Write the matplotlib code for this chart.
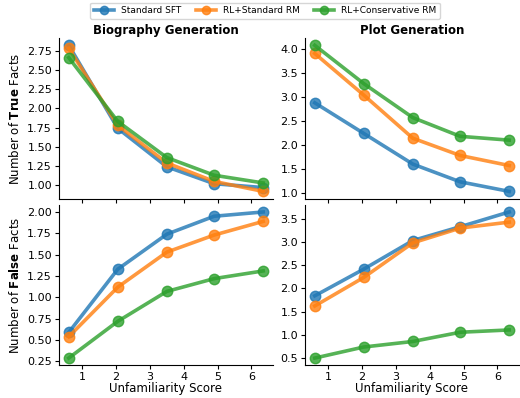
import matplotlib
matplotlib.use("Agg")
import matplotlib.pyplot as plt
import numpy as np

# unfamiliarity score bins (x positions)
scores = [0.6, 2.05, 3.5, 4.9, 6.35]
methods = ['Standard SFT', 'RL+Standard RM', 'RL+Conservative RM']
colors = ['#1f77b4', '#ff7f0e', '#2ca02c']

# Biography generation
bio_true_sft = [2.82, 1.74, 1.24, 1.02, 0.97]
bio_true_std = [2.78, 1.78, 1.29, 1.05, 0.92]
bio_true_cons = [2.66, 1.83, 1.36, 1.13, 1.03]
bio_false_sft = [0.59, 1.33, 1.74, 1.95, 2.00]
bio_false_std = [0.54, 1.12, 1.53, 1.73, 1.89]
bio_false_cons = [0.29, 0.72, 1.07, 1.22, 1.31]

# Plot generation
plot_true_sft = [2.88, 2.24, 1.60, 1.23, 1.03]
plot_true_std = [3.91, 3.04, 2.14, 1.78, 1.57]
plot_true_cons = [4.08, 3.28, 2.57, 2.18, 2.10]
plot_false_sft = [1.84, 2.42, 3.04, 3.34, 3.66]
plot_false_std = [1.62, 2.24, 2.99, 3.31, 3.44]
plot_false_cons = [0.49, 0.73, 0.85, 1.05, 1.10]

panels = {
    (0, 0): [bio_true_sft, bio_true_std, bio_true_cons],
    (1, 0): [bio_false_sft, bio_false_std, bio_false_cons],
    (0, 1): [plot_true_sft, plot_true_std, plot_true_cons],
    (1, 1): [plot_false_sft, plot_false_std, plot_false_cons],
}

fig, axes = plt.subplots(2, 2, figsize=(5.2, 3.98), dpi=100, sharex=True)
plt.subplots_adjust(left=0.1135, right=0.998, bottom=0.082, top=0.9045,
                    wspace=0.15, hspace=0.037)

for (r, c), series in panels.items():
    ax = axes[r, c]
    for vals, name, col in zip(series, methods, colors):
        ax.plot(scores, vals, color=col, lw=2.6, marker='o', ms=7.5,
                alpha=0.8, label=name)
    ax.spines['top'].set_visible(False)
    ax.spines['right'].set_visible(False)
    ax.tick_params(labelsize=8, length=3, pad=2)

axes[0, 0].set_title('Biography Generation', fontsize=8.5, fontweight='bold', pad=3)
axes[0, 1].set_title('Plot Generation', fontsize=8.5, fontweight='bold', pad=3)
axes[0, 0].set_ylabel(r'Number of $\bf{True}$ Facts', fontsize=8.5)
axes[1, 0].set_ylabel(r'Number of $\bf{False}$ Facts', fontsize=8.5)
axes[1, 0].set_xlabel('Unfamiliarity Score', fontsize=8.5, labelpad=0)
axes[1, 1].set_xlabel('Unfamiliarity Score', fontsize=8.5, labelpad=0)
axes[1, 0].set_xticks([1, 2, 3, 4, 5, 6])
axes[0, 0].set_yticks(np.arange(1.0, 2.76, 0.25))
axes[1, 0].set_yticks(np.arange(0.25, 2.01, 0.25))
axes[0, 1].set_yticks(np.arange(1.0, 4.01, 0.5))
axes[1, 1].set_yticks(np.arange(0.5, 3.51, 0.5))

handles, labels = axes[0, 0].get_legend_handles_labels()
fig.legend(handles, labels, loc='upper center', bbox_to_anchor=(0.51, 1.005),
           ncol=3, fontsize=6.5, frameon=True, handlelength=2.2,
           columnspacing=1.6, borderpad=0.4, markerscale=0.8)

plt.savefig('out.png', dpi=100)
